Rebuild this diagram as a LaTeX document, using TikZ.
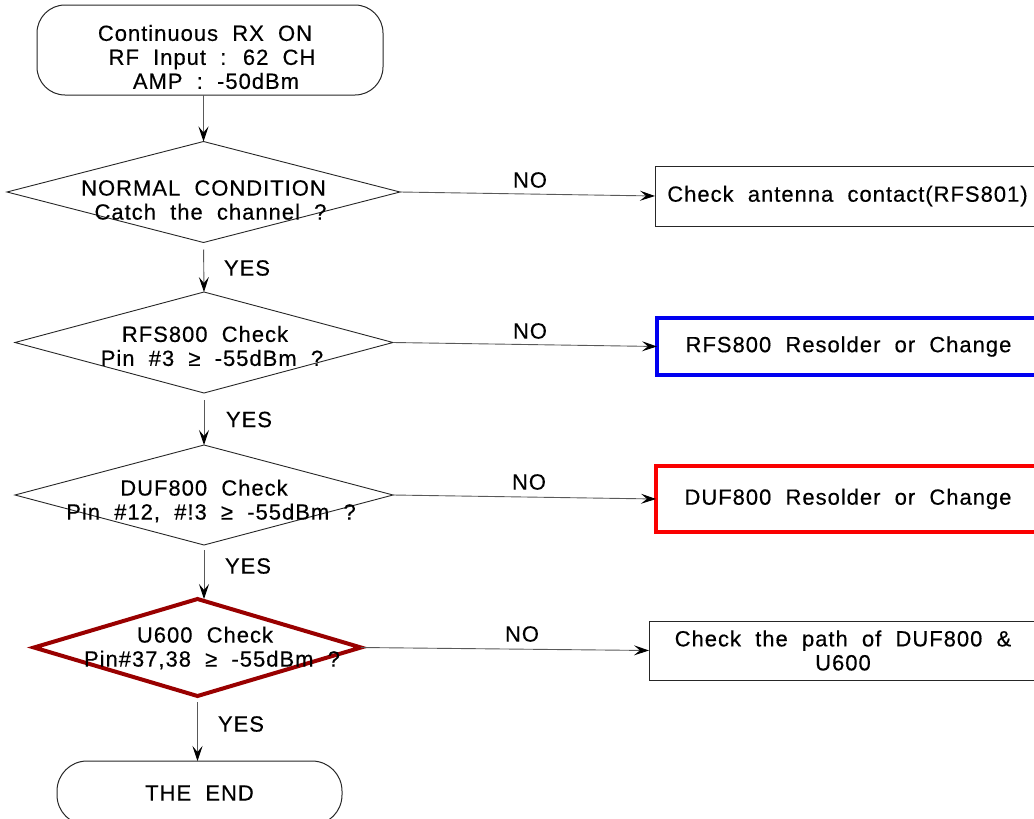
\documentclass[tikz,border=0pt]{standalone}
\usepackage{fontspec}
\setmainfont{Liberation Sans}[LetterSpace=4.5,WordSpace=2,FakeBold=0.4]
\usetikzlibrary{shapes.geometric,arrows.meta}
\definecolor{darkred}{RGB}{153,0,0}
\definecolor{boxblue}{RGB}{0,0,240}
\definecolor{boxred}{RGB}{250,0,0}
\begin{document}
\begin{tikzpicture}[x=1pt,y=-1pt,
  every node/.style={font=\fontsize{22}{24}\selectfont, inner sep=0pt, outer sep=0pt},
  dec/.style={draw=black!85, line width=0.9pt, shape=diamond},
  proc/.style={draw=black!85, line width=1pt, rectangle, align=center},
  term/.style={draw=black!85, line width=1pt, rounded corners=28pt, rectangle},
  conn/.style={draw=black!65, line width=0.9pt, -{Stealth[length=15pt,width=10pt,inset=6pt,color=black]}},
  txt/.style={align=center}]
\useasboundingbox (0,0) rectangle (1034,819);
\clip (0,0) rectangle (1034,819);

% terminals
\node[term, minimum width=346pt, minimum height=90pt] (start) at (210,50) {};
\node[txt] (startt) at (205,57) {Continuous RX ON\\\hspace*{14pt}RF Input : 62 CH\\\hspace*{22pt}AMP : -50dBm};

\node[term, rounded corners=30pt, minimum width=285pt, minimum height=64pt] (end) at (199.5,793) {THE END};

% decisions
\node[dec, minimum width=393pt, minimum height=101pt] (d1) at (203.5,192) {};
\node[txt] (d1t) at (203.5,200) {NORMAL CONDITION\\\hspace*{14pt}Catch the channel ?};

\node[dec, minimum width=378pt, minimum height=101pt] (d2) at (204,342.5) {};
\node[txt] (d2t) at (205,346) {RFS800 Check\\\hspace*{14pt}Pin \#3 ≥ -55dBm ?};

\node[dec, minimum width=378pt, minimum height=100pt] (d3) at (204,495) {};
\node[txt] (d3t) at (204,501) {DUF800 Check\\\hspace*{14pt}Pin \#12, \#!3 ≥ -55dBm ?};

\node[dec, draw=darkred, line width=4pt, minimum width=327pt, minimum height=97pt] (d4) at (197.5,647.5) {};
\node[txt] (d4t) at (205,648) {U600 Check\\\hspace*{14pt}Pin\#37,38 ≥ -55dBm ?};

% process boxes
\node[proc, minimum width=385pt, minimum height=60pt] (b1) at (847.5,196) {Check antenna contact(RFS801)};
\node[proc, draw=boxblue, line width=4pt, minimum width=383pt, minimum height=57pt] (b2) at (848.5,346.5) {RFS800 Resolder or Change};
\node[proc, draw=boxred, line width=4pt, minimum width=384pt, minimum height=66pt] (b3) at (848,499) {DUF800 Resolder or Change};
\node[proc, minimum width=388pt, minimum height=59pt] (b4) at (843,650.5) {Check the path of DUF800 \&\\U600};

% connectors down
\draw[conn] (d1.north |- start.south) -- (d1.north);
\draw[conn, shorten <=7pt] (d1.south) -- (d2.north);
\draw[conn, shorten <=7pt] (d2.south) -- (d3.north);
\draw[conn, shorten <=5pt] (d3.south) -- (d3.south |- d4.north);
\draw[conn, shorten <=6pt] (d4.south) -- (d4.south |- end.north);

% connectors right
\draw[conn] (d1.east) -- (b1.west);
\draw[conn] (d2.east) -- (b2.west);
\draw[conn] (d3.east) -- (b3.west);
\draw[conn] (d4.east) -- (b4.west);

% labels
\node (yes1) at (247,268) {YES};
\node (yes2) at (249,419.5) {YES};
\node (yes3) at (248,566) {YES};
\node (yes4) at (241,724) {YES};
\node (no1) at (530,180) {NO};
\node (no2) at (530,331) {NO};
\node (no3) at (529,482) {NO};
\node (no4) at (522,634) {NO};
\end{tikzpicture}
\end{document}
